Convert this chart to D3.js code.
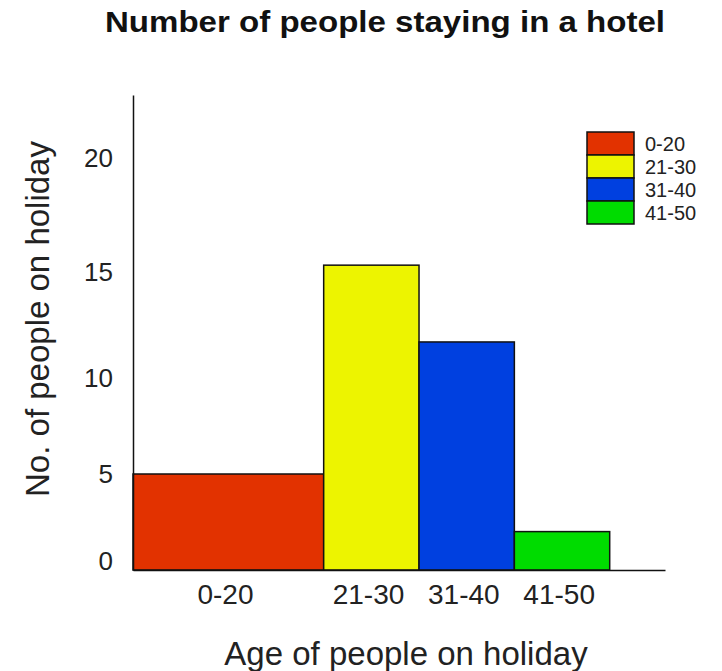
<!DOCTYPE html>
<html>
<head>
<meta charset="utf-8">
<script src="https://cdn.jsdelivr.net/npm/d3@7"></script>
<style>
  body { margin: 0; background: #fff; }
  svg { display: block; font-family: "Liberation Sans", Arial, sans-serif; }
</style>
</head>
<body>
<svg id="chart" width="722" height="671"></svg>
<script>
// Data
const categories = ["0-20", "21-30", "31-40", "41-50"];
const binStarts = [0, 20, 30, 40];
const binEnds = [20, 30, 40, 50];
const values = [5, 15.3, 11.7, 2];
const colors = ["#e23200", "#edf400", "#0040e0", "#00dc00"];
const yTicks = [0, 5, 10, 15, 20];

const svg = d3.select("#chart");

const x = d3.scaleLinear().domain([0, 55.8]).range([133, 665]);
// piecewise-linear scale to match the tick placement of the original
const y = d3.scaleLinear()
  .domain([0, 5, 10, 15, 20, 23])
  .range([570, 474, 378, 272, 158, 95]);

// Bars
svg.append("g").selectAll("rect")
  .data(values)
  .join("rect")
  .attr("x", (d, i) => x(binStarts[i]))
  .attr("width", (d, i) => x(binEnds[i]) - x(binStarts[i]))
  .attr("y", d => y(d))
  .attr("height", d => y(0) - y(d))
  .attr("fill", (d, i) => colors[i])
  .attr("stroke", "#111")
  .attr("stroke-width", 1.5);

// Y axis
const yAxis = d3.axisLeft(y).tickValues(yTicks).tickSize(0).tickPadding(20);
const gy = svg.append("g").attr("transform", `translate(${x(0)},0)`).call(yAxis);
gy.select(".domain").attr("stroke", "#111").attr("stroke-width", 1.5);
gy.selectAll("text").attr("font-size", 26).attr("fill", "#222")
  .attr("font-family", "Liberation Sans, Arial, sans-serif")
  .attr("dy", d => d === 0 ? "-0.02em" : "0.32em");

// X axis (category labels at bar centres)
const xAxis = d3.axisBottom(x)
  .tickValues(binStarts.map((s, i) => (s + binEnds[i]) / 2))
  .tickFormat((d, i) => categories[i])
  .tickSize(0).tickPadding(14);
const gx = svg.append("g").attr("transform", `translate(0,${y(0)})`).call(xAxis);
gx.select(".domain").attr("stroke", "#111").attr("stroke-width", 1.5);
gx.selectAll("text").attr("font-size", 28).attr("fill", "#222")
  .attr("font-family", "Liberation Sans, Arial, sans-serif")
  .attr("dx", "-0.12em");

// Title
svg.append("text")
  .attr("x", 385).attr("y", 32)
  .attr("text-anchor", "middle")
  .attr("font-weight", "bold")
  .attr("font-size", 30)
  .attr("textLength", 560)
  .attr("lengthAdjust", "spacingAndGlyphs")
  .attr("fill", "#111")
  .text("Number of people staying in a hotel");

// Axis titles
svg.append("text")
  .attr("x", 406).attr("y", 665)
  .attr("text-anchor", "middle")
  .attr("font-size", 33)
  .attr("fill", "#222")
  .text("Age of people on holiday");

svg.append("text")
  .attr("transform", "translate(49,319) rotate(-90)")
  .attr("text-anchor", "middle")
  .attr("font-size", 33)
  .attr("fill", "#222")
  .text("No. of people on holiday");

// Legend
const leg = svg.append("g").attr("transform", "translate(587,132)");
const lh = 23;
leg.selectAll("rect")
  .data(categories)
  .join("rect")
  .attr("x", 0).attr("y", (d, i) => i * lh)
  .attr("width", 47).attr("height", lh)
  .attr("fill", (d, i) => colors[i])
  .attr("stroke", "#111").attr("stroke-width", 1.5);
leg.selectAll("text")
  .data(categories)
  .join("text")
  .attr("x", 58).attr("y", (d, i) => i * lh + lh / 2)
  .attr("dy", "0.35em")
  .attr("font-size", 20)
  .attr("fill", "#222")
  .text(d => d);
</script>
</body>
</html>
